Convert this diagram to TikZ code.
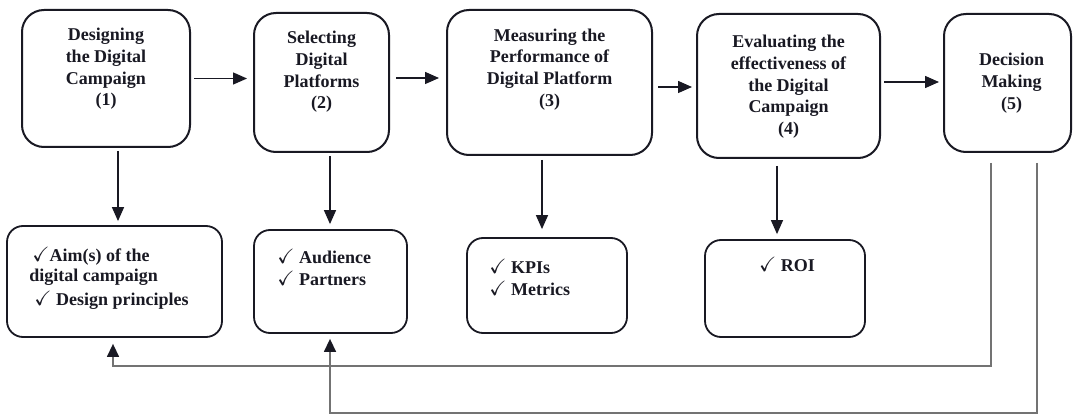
\documentclass[tikz,border=0pt]{standalone}
\usepackage{amssymb}
\usepackage{fontspec}
\setmainfont{Liberation Serif}[BoldFont={Liberation Serif Bold}]
\usetikzlibrary{arrows.meta,calc}
\definecolor{ink}{RGB}{25,25,35}
\newcommand{\ck}{\scalebox{1.15}{$\checkmark$}}
\begin{document}
\begin{tikzpicture}[x=1pt,y=-1pt,
  topbox/.style={draw=ink, line width=2pt, rounded corners=22pt, inner sep=0pt},
  botbox/.style={draw=ink, line width=1.8pt, rounded corners=16pt, inner sep=0pt},
  txt/.style={font=\rmfamily\bfseries\fontsize{18}{21.7}\selectfont, inner sep=0pt, text=ink},
  arr/.style={draw=ink, line width=1.4pt, -{Triangle[length=14pt,width=12pt]}},
  fb/.style={draw=black!55, line width=1.4pt, -{Triangle[length=13pt,width=12pt,color=ink]}}
]
\useasboundingbox (0,0) rectangle (1073,414);
\fill[white] (0,0) rectangle (1073,414);

% top boxes
\node[topbox, minimum width=168pt, minimum height=137pt] (b1) at (106,78.5) {};
\node[topbox, minimum width=135pt, minimum height=139pt] (b2) at (321.5,82.5) {};
\node[topbox, minimum width=205pt, minimum height=145pt] (b3) at (549.5,82.5) {};
\node[topbox, minimum width=183pt, minimum height=144pt] (b4) at (788.5,86) {};
\node[topbox, minimum width=127pt, minimum height=138pt] (b5) at (1007.5,83) {};

\node[txt, align=center, anchor=north] (t1) at ($(b1.north)+(0,19)$) {Designing\\the Digital\\Campaign\\(1)};
\node[txt, align=center, anchor=north] (t2) at ($(b2.north)+(0,19)$) {Selecting\\Digital\\Platforms\\(2)};
\node[txt, align=center, anchor=north] (t3) at ($(b3.north)+(0,19.5)$) {Measuring the\\Performance of\\Digital Platform\\(3)};
\node[txt, align=center, anchor=north] (t4) at ($(b4.north)+(0,22)$) {Evaluating the\\effectiveness of\\the Digital\\Campaign\\(4)};
\node[txt, align=center, anchor=north] (t5) at ($(b5.north)+(4,40)$) {Decision\\Making\\(5)};

% bottom boxes
\node[botbox, minimum width=215pt, minimum height=111pt] (c1) at (114.5,281.5) {};
\node[botbox, minimum width=153pt, minimum height=103pt] (c2) at (330.5,281.5) {};
\node[botbox, minimum width=160pt, minimum height=95pt] (c3) at (547,285.5) {};
\node[botbox, minimum width=160pt, minimum height=97pt] (c4) at (785,288.5) {};

\node[txt, align=left, anchor=north west] (u1) at ($(c1.north west)+(23,22)$) {\hspace{3pt}\ck Aim(s) of the\\[-1.5pt]digital campaign\\[1.5pt]\hspace{5pt}\ck\ Design principles};
\node[txt, align=left, anchor=north west] (u2) at ($(c2.north west)+(24,20)$) {\ck\ Audience\\\ck\ Partners};
\node[txt, align=left, anchor=north west] (u3) at ($(c3.north west)+(23,22)$) {\ck\ KPIs\\\ck\ Metrics};
\node[txt, align=center, anchor=north] (u4) at ($(c4.north)+(2,18)$) {\ck\ ROI};

% horizontal arrows
\coordinate (h1) at ([xshift=3pt]b1.east);
\draw[arr, shorten >=6pt] (h1) -- (h1 -| b2.west);
\coordinate (h2) at ([xshift=6pt,yshift=4.5pt]b2.east);
\draw[arr, shorten >=7pt] (h2) -- (h2 -| b3.west);
\coordinate (h3) at ([xshift=5pt,yshift=-4.5pt]b3.east);
\draw[arr, shorten >=4pt] (h3) -- (h3 -| b4.west);
\coordinate (h4) at ([xshift=3pt,yshift=4pt]b4.east);
\draw[arr, shorten >=4pt] (h4) -- (h4 -| b5.west);

% vertical arrows
\coordinate (v1) at ([xshift=12pt,yshift=-3pt]b1.south);
\draw[arr, shorten >=4pt] (v1) -- (v1 |- c1.north);
\coordinate (v2) at ([xshift=8.5pt,yshift=-3pt]b2.south);
\draw[arr, shorten >=5pt] (v2) -- (v2 |- c2.north);
\coordinate (v3) at ([xshift=-7.5pt,yshift=-4pt]b3.south);
\draw[arr, shorten >=8pt] (v3) -- (v3 |- c3.north);
\coordinate (v4) at ([xshift=-11.5pt,yshift=-7pt]b4.south);
\draw[arr, shorten >=5pt] (v4) -- (v4 |- c4.north);

% feedback lines
\coordinate (f1) at ([xshift=-16.5pt,yshift=-10pt]b5.south);
\coordinate (g1) at ($(c1.south)+(-1.5,28)$);
\draw[fb, shorten >=6pt] (f1) |- (g1) -- (g1 |- c1.south);
\coordinate (f2) at ([xshift=29.5pt,yshift=-10pt]b5.south);
\coordinate (g2) at ($(c2.south)+(-0.5,79)$);
\draw[fb, shorten >=5pt] (f2) |- (g2) -- (g2 |- c2.south);
\end{tikzpicture}
\end{document}
